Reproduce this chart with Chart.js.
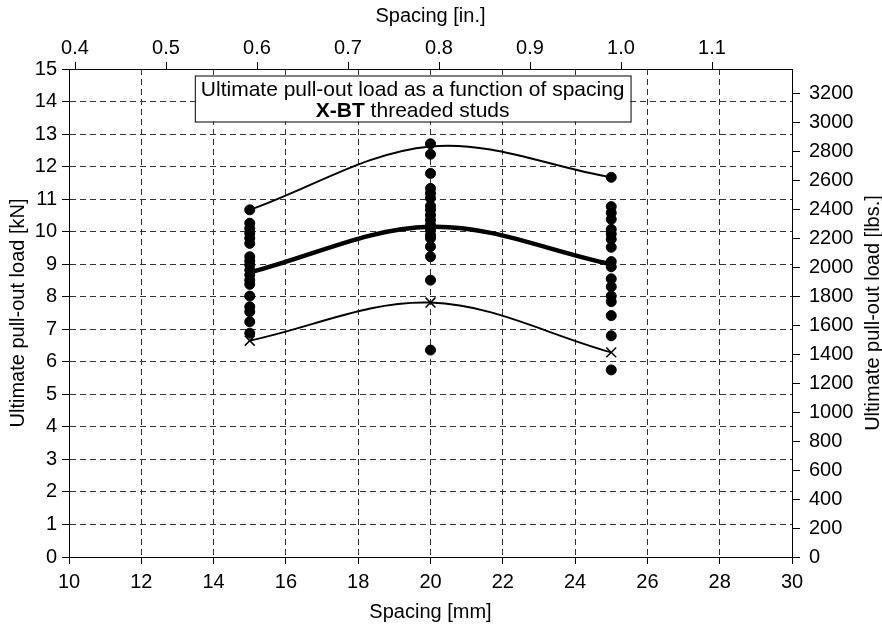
<!DOCTYPE html>
<html>
<head>
<meta charset="utf-8">
<script src="https://cdn.jsdelivr.net/npm/chart.js@4.4.1/dist/chart.umd.min.js"></script>
<style>
html, body { margin: 0; padding: 0; background: #fff; }
#wrap { width: 882px; height: 626px; }
</style>
</head>
<body>
<div id="wrap"><canvas id="myChart"></canvas></div>
<script>
// Spacing of the studs [mm] where tests were made
const spacingMm = [15, 20, 25];

// single test results [kN] per spacing
const loads15 = [10.67, 10.26, 10.10, 9.95, 9.80, 9.64, 9.23, 9.10, 8.98, 8.82, 8.67, 8.51, 8.38, 8.02, 7.69, 7.54, 7.23, 6.88];
const loads20 = [12.70, 12.38, 11.79, 11.33, 11.18, 11.03, 10.79, 10.67, 10.51, 10.36, 10.21, 10.05, 9.90, 9.80, 9.54, 9.23, 8.51, 6.36];
const loads25 = [11.67, 10.77, 10.58, 10.38, 10.07, 9.93, 9.77, 9.52, 9.08, 8.92, 8.55, 8.31, 8.02, 7.85, 7.42, 6.80, 5.75];

// fitted curves [kN]
const upperCurve = [10.67, 12.62, 11.67];
const meanCurve = [8.75, 10.15, 9.0];
const lowerCurve = [6.65, 7.82, 6.29];

// tick labels
const mmTicks = [10, 12, 14, 16, 18, 20, 22, 24, 26, 28, 30];
const inchTicks = [0.4, 0.5, 0.6, 0.7, 0.8, 0.9, 1.0, 1.1];
const kNTicks = [0, 1, 2, 3, 4, 5, 6, 7, 8, 9, 10, 11, 12, 13, 14, 15];
const lbsTicks = [0, 200, 400, 600, 800, 1000, 1200, 1400, 1600, 1800, 2000, 2200, 2400, 2600, 2800, 3000, 3200];

const LBS_PER_KN = 224.809;
const FONT = '"Liberation Sans", Arial, Helvetica, sans-serif';

const toPoints = (xs, ys) => ys.map((v, i) => ({ x: xs[i], y: v }));
const column = (x, ys) => ys.map(v => ({ x: x, y: v }));

const testPoints = [].concat(
  column(spacingMm[0], loads15),
  column(spacingMm[1], loads20),
  column(spacingMm[2], loads25)
);

const setTicks = (arr) => (scale) => { scale.ticks = arr.map(v => ({ value: v })); };

const gridDash = { display: true, color: '#000', width: 1, dash: [6, 4] };
const tickFont = { family: FONT, size: 20 };
const titleFont = { family: FONT, size: 20 };

// title box + right hand axis title
const extras = {
  id: 'extras',
  afterDraw(chart) {
    const { ctx, chartArea, scales: { x, y } } = chart;
    ctx.save();
    // box
    const line1 = 'Ultimate pull-out load as a function of spacing';
    ctx.font = '21px ' + FONT;
    const w1 = ctx.measureText(line1).width;
    const left = x.getPixelForValue(13.48);
    const top = y.getPixelForValue(14.8);
    const w = w1 + 12;
    const h = 46;
    ctx.fillStyle = '#fff';
    ctx.fillRect(left, top, w, h);
    ctx.strokeStyle = '#000';
    ctx.lineWidth = 1;
    ctx.strokeRect(left + 0.5, top + 0.5, w, h);
    ctx.fillStyle = '#000';
    ctx.textBaseline = 'alphabetic';
    ctx.textAlign = 'left';
    const cx = left + w / 2;
    ctx.fillText(line1, cx - w1 / 2, top + 20);
    ctx.font = 'bold 21px ' + FONT;
    const bold = 'X-BT';
    const wb = ctx.measureText(bold).width;
    ctx.font = '21px ' + FONT;
    const rest = ' threaded studs';
    const wr = ctx.measureText(rest).width;
    const sx = cx - (wb + wr) / 2;
    ctx.font = 'bold 21px ' + FONT;
    ctx.fillText(bold, sx, top + 41);
    ctx.font = '21px ' + FONT;
    ctx.fillText(rest, sx + wb, top + 41);

    // right axis title (reads bottom to top)
    ctx.font = '20px ' + FONT;
    ctx.translate(873, (chartArea.top + chartArea.bottom) / 2);
    ctx.rotate(-Math.PI / 2);
    ctx.textAlign = 'center';
    ctx.textBaseline = 'middle';
    ctx.fillText('Ultimate pull-out load [lbs.]', 0, 0);
    ctx.restore();
  }
};

const ctx = document.getElementById('myChart');

new Chart(ctx, {
  type: 'scatter',
  data: {
    datasets: [
      {
        label: 'tests',
        data: testPoints,
        backgroundColor: '#000',
        borderColor: '#000',
        pointRadius: 5,
        pointHoverRadius: 5,
        order: 0
      },
      {
        label: 'upper',
        data: toPoints(spacingMm, upperCurve),
        showLine: true,
        tension: 0.35,
        borderColor: '#000',
        borderWidth: 2,
        pointRadius: 0,
        order: 1
      },
      {
        label: 'mean',
        data: toPoints(spacingMm, meanCurve),
        showLine: true,
        tension: 0.35,
        borderColor: '#000',
        borderWidth: 4.5,
        pointRadius: 0,
        order: 1
      },
      {
        label: 'lower',
        data: toPoints(spacingMm, lowerCurve),
        showLine: true,
        tension: 0.35,
        borderColor: '#000',
        borderWidth: 2,
        pointStyle: 'crossRot',
        pointRadius: 7,
        pointBorderWidth: 1.5,
        pointBorderColor: '#000',
        order: 1
      }
    ]
  },
  options: {
    responsive: true,
    maintainAspectRatio: false,
    animation: false,
    layout: { padding: 0 },
    plugins: { legend: { display: false }, tooltip: { enabled: false } },
    scales: {
      x: {
        type: 'linear',
        position: 'bottom',
        min: 10,
        max: 30,
        afterBuildTicks: setTicks(mmTicks),
        afterFit: (s) => { s.height = 69; },
        ticks: { color: '#000', font: tickFont, padding: 6, autoSkip: false, maxRotation: 0 },
        grid: { color: '#333', lineWidth: 1, tickColor: '#000', tickLength: 7 },
        border: gridDash,
        title: { display: true, text: 'Spacing [mm]', color: '#000', font: titleFont, padding: { top: 0, bottom: 2 } }
      },
      xTop: {
        type: 'linear',
        position: 'top',
        bounds: 'data',
        min: 0.3934,
        max: 1.1879,
        afterBuildTicks: setTicks(inchTicks),
        afterFit: (s) => { s.height = 69; },
        ticks: { color: '#000', font: tickFont, padding: 2, autoSkip: false, maxRotation: 0, callback: (v) => v.toFixed(1) },
        grid: { drawOnChartArea: false, tickColor: '#000', tickLength: 7 },
        border: { display: true, color: '#000', width: 1 },
        title: { display: true, text: 'Spacing [in.]', color: '#000', font: titleFont, padding: { top: 4, bottom: 0 } }
      },
      y: {
        type: 'linear',
        position: 'left',
        min: 0,
        max: 15,
        afterBuildTicks: setTicks(kNTicks),
        afterFit: (s) => { s.width = 69; },
        ticks: { color: '#000', font: tickFont, padding: 5, autoSkip: false },
        grid: { color: '#333', lineWidth: 1, tickColor: '#000', tickLength: 7 },
        border: gridDash,
        title: { display: true, text: 'Ultimate pull-out load [kN]', color: '#000', font: titleFont, padding: { top: 6, bottom: 0 } }
      },
      yLbs: {
        type: 'linear',
        position: 'right',
        bounds: 'data',
        min: 0,
        max: 15 * LBS_PER_KN,
        afterBuildTicks: setTicks(lbsTicks),
        afterFit: (s) => { s.width = 90; },
        ticks: { color: '#000', font: tickFont, padding: 9, autoSkip: false, callback: (v) => String(v) },
        grid: { drawOnChartArea: false, tickColor: '#000', tickLength: 8 },
        border: { display: true, color: '#000', width: 1 },
        title: { display: false }
      }
    }
  },
  plugins: [extras]
});
</script>
</body>
</html>
